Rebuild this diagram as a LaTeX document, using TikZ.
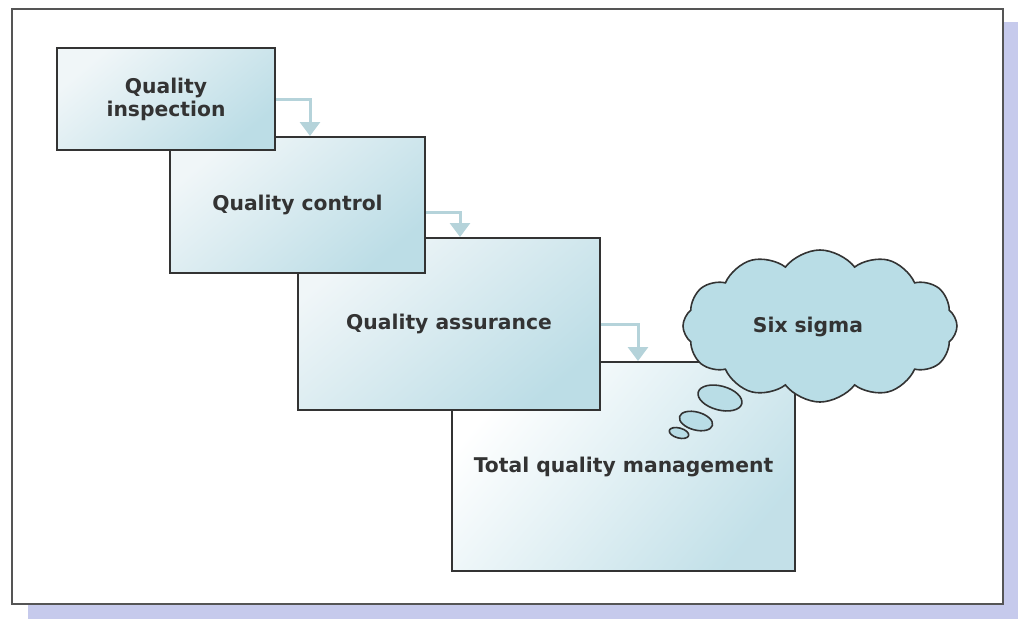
\documentclass[tikz,border=0pt]{standalone}
\usepackage{fontspec}
\setmainfont{DejaVu Sans}
\usetikzlibrary{shapes.symbols,shapes.geometric,arrows.meta}
\definecolor{shadowc}{HTML}{C6CAEC}
\definecolor{framec}{HTML}{555555}
\definecolor{edgec}{HTML}{333333}
\definecolor{boxlight}{HTML}{F0F6F8}
\definecolor{boxdark}{HTML}{BCDDE6}
\definecolor{cloudc}{HTML}{B9DDE6}
\definecolor{flowc}{HTML}{B5D3DA}
\definecolor{textc}{HTML}{333333}
\tikzset{
  txt/.style={font=\bfseries\fontsize{20.3pt}{23pt}\selectfont},
  stepbox/.style={draw=edgec, line width=2.6pt, rectangle, inner sep=0pt,
    top color=boxlight, bottom color=boxdark, shading angle=40,
    text=textc, align=center, txt},
  lbl/.style={text=textc, inner sep=0pt, txt},
  flow/.style={draw=flowc, line width=3pt, -{Triangle[width=20pt,length=14pt]}},
  bubble/.style={draw=edgec, line width=1.6pt, fill=cloudc, ellipse, inner sep=0pt}
}
\begin{document}
\begin{tikzpicture}[x=1pt,y=-1pt]
\useasboundingbox (0,0) rectangle (1018,619);
\fill[white] (0,0) rectangle (1018,619);
\fill[shadowc] (28,22) rectangle (1018,619);
\draw[fill=white, line width=2.6pt, draw=framec] (12,9) rectangle (1003,604);

% boxes, back to front
\node[stepbox, minimum width=343pt, minimum height=209pt, top color=white, bottom color=boxdark!90, shading angle=50] (b4) at (623.5,466.5) {Total quality management};
\node[stepbox, minimum width=302pt, minimum height=172pt] (b3) at (449,324) {Quality assurance};
\node[stepbox, minimum width=255pt, minimum height=136pt] (b2) at (297.5,205) {Quality control};
\node[stepbox, minimum width=218pt, minimum height=102pt] (b1) at (166,99) {Quality\\inspection};

% flow arrows
\coordinate (e1) at (310,136);
\coordinate (e2) at (460,237);
\coordinate (e3) at (638,361);
\draw[flow] (b1.east) -| (e1);
\draw[flow] ([yshift=-7pt]b2.east) -| (e2);
\draw[flow] (b3.east) -| (e3);

% cloud
\node[cloud, cloud puffs=12, cloud puff arc=105, aspect=1.85, draw=edgec, line width=1.6pt, fill=cloudc,
  minimum width=274pt, minimum height=152pt, inner sep=0pt] (cl) at (820,326) {};
\node[lbl] (t5) at (808,327) {Six sigma};
\node[bubble, minimum width=45pt, minimum height=24pt, rotate=-15] (bb1) at (720,398) {};
\node[bubble, minimum width=34pt, minimum height=18pt, rotate=-15] (bb2) at (696,421) {};
\node[bubble, minimum width=20pt, minimum height=10pt, rotate=-15] (bb3) at (679,433) {};
\end{tikzpicture}
\end{document}
